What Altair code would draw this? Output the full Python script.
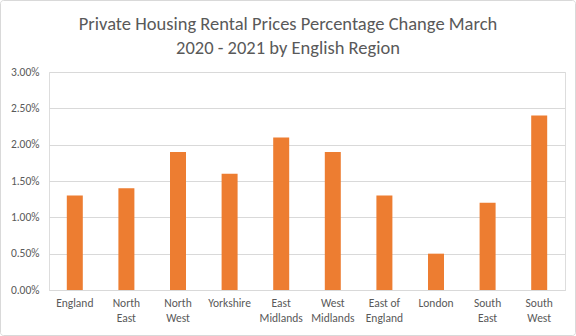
import altair as alt
import pandas as pd

regions = ["England", "North East", "North West", "Yorkshire", "East Midlands",
           "West Midlands", "East of England", "London", "South East", "South West"]
changes = [0.013, 0.014, 0.019, 0.016, 0.021, 0.019, 0.013, 0.005, 0.012, 0.024]
y_ticks = [0, 0.005, 0.01, 0.015, 0.02, 0.025, 0.03]

df = pd.DataFrame({"region": regions, "change": changes})

FONT = "Carlito, Calibri, Lato, sans-serif"
GREY = "#595959"

bars = alt.Chart(df).mark_bar(color="#ED7D31").encode(
    x=alt.X("region:N", sort=regions, title=None,
            scale=alt.Scale(paddingInner=0.69, paddingOuter=0.345),
            axis=alt.Axis(labelAngle=0, ticks=False, domainColor="#d9d9d9",
                          labelColor=GREY, labelFontSize=11.5, labelFont=FONT,
                          labelPadding=7, labelLineHeight=15.5,
                          labelExpr="datum.label == 'East of England' ? ['East of', 'England'] : split(datum.label, ' ')")),
    y=alt.Y("change:Q", title=None,
            scale=alt.Scale(domain=[0, 0.03], nice=False),
            axis=alt.Axis(values=y_ticks, format=".2%", ticks=False, domain=False,
                          gridColor="#d9d9d9", labelColor=GREY, labelFontSize=11.5,
                          labelFont=FONT, labelPadding=10)),
)

border = alt.Chart(alt.Data(values=[{"a": 1}])).mark_rect(
    fill=None, stroke="#d9d9d9", strokeWidth=1, cornerRadius=3
).encode(
    x=alt.value(-48.5), x2=alt.value(526.5),
    y=alt.value(-71.5), y2=alt.value(263.5),
)

chart = alt.layer(border, bars).properties(
    width=516, height=218,
    autosize=alt.AutoSizeParams(type="none"),
    padding={"left": 49, "top": 72, "right": 11, "bottom": 46},
    title=alt.TitleParams(
        text=["Private Housing Rental Prices Percentage Change March",
              "2020 - 2021 by English Region"],
        font=FONT, fontSize=18.5, fontWeight="normal", color=GREY,
        anchor="middle", dx=-19, offset=14, lineHeight=24, dy=71,
    ),
).configure_view(stroke=None).configure(background="white")

chart.save("out.html", embed_options={"renderer": "svg", "actions": False})
